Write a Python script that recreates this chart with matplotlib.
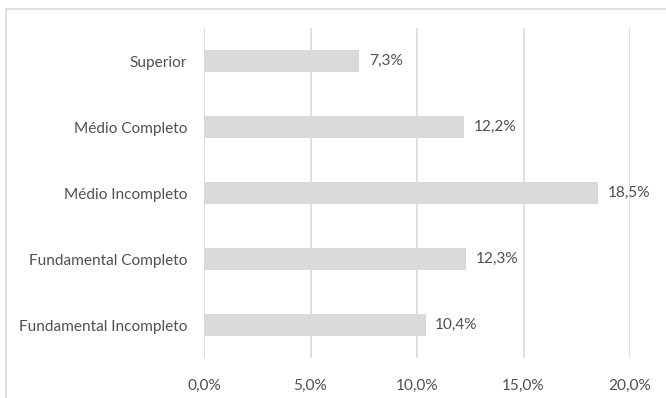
import matplotlib
matplotlib.use("Agg")
import matplotlib.pyplot as plt
from matplotlib.patches import Rectangle

# Escolaridade e percentuais
categorias = ["Fundamental Incompleto", "Fundamental Completo", "Médio Incompleto",
              "Médio Completo", "Superior"]
valores = [10.4, 12.3, 18.5, 12.2, 7.3]
ticks_x = [0, 5, 10, 15, 20]

plt.rcParams['font.family'] = ['Lato', 'DejaVu Sans']
texto = '#505050'
cinza = '#d9d9d9'

fig = plt.figure(figsize=(6.66, 3.98), dpi=100)
ax = fig.add_axes([204 / 666, 1 - 358 / 398, 426 / 666, 330 / 398])

pos = list(range(len(categorias)))
ax.barh(pos, valores, height=0.34, color=cinza, zorder=2)

for y, v in zip(pos, valores):
    ax.text(v + 0.45, y, f"{v:.1f}%".replace('.', ','), va='center', ha='left',
            fontsize=11.1, color=texto)

ax.set_xlim(0, 20)
ax.set_ylim(-0.5, len(categorias) - 0.5)
ax.set_xticks(ticks_x)
ax.set_xticklabels([f"{t:.1f}%".replace('.', ',') for t in ticks_x])
ax.set_yticks(pos)
ax.set_yticklabels(categorias)
ax.tick_params(length=0, labelsize=11.1, colors=texto)
ax.tick_params(axis='x', pad=15)
ax.tick_params(axis='y', pad=12)
ax.grid(axis='x', color=cinza, linewidth=1.2, zorder=0)
for s in ax.spines.values():
    s.set_visible(False)

# moldura do gráfico
fig.patches.append(Rectangle((6 / 666, -0.1), 1.2, 1 - 9 / 398 + 0.1, transform=fig.transFigure,
                             fill=False, edgecolor=cinza, linewidth=1.2))

fig.savefig("out.png", dpi=100)
